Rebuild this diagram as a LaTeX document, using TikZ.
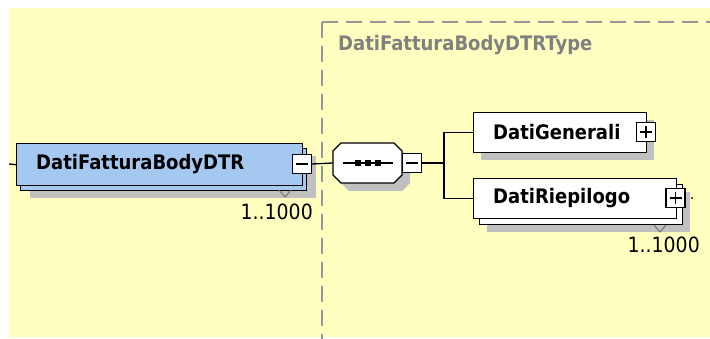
\documentclass[tikz,border=0pt]{standalone}
\usepackage{fontspec}
\setmainfont{DejaVu Sans}[FakeStretch=0.9]
\definecolor{bg}{RGB}{255,255,192}
\definecolor{elblue}{RGB}{164,200,240}
\definecolor{shad}{RGB}{192,192,192}
\definecolor{dashc}{RGB}{150,150,150}
\definecolor{typec}{RGB}{128,128,128}
\begin{document}
\begin{tikzpicture}[x=1pt,y=-1pt,
  box/.style={draw=black, line width=1.3pt, fill=white, inner sep=0, anchor=north west, minimum height=40pt},
  shadowbox/.style={fill=shad, inner sep=0, anchor=north west, minimum height=40pt},
  btn/.style={draw=black, line width=1.2pt, fill=white, minimum size=19pt, inner sep=0},
  conn/.style={line width=1.3pt, black},
  sign/.style={line width=1.2pt, black},
  lbl/.style={font=\bfseries\fontsize{20}{23}\selectfont, anchor=west, inner sep=0, text=black},
  card/.style={font=\fontsize{21}{24}\selectfont, anchor=base east, inner sep=0, text=black},
  tri/.style={draw=black!55, line width=1pt},
  dashln/.style={draw=dashc, line width=1.5pt, dash pattern=on 16pt off 8pt}
]
\useasboundingbox (0,0) rectangle (710,339);
\fill[bg] (9,8) rectangle (710,337);

% type boundary
\draw[dashln] (322,22) -- (710,22);
\draw[dashln] (322,22) -- (322,339);
\node[font=\bfseries\fontsize{20}{23}\selectfont, text=typec, anchor=west, inner sep=0] (typelbl) at (338,45) {DatiFatturaBodyDTRType};

% main element
\coordinate (lefte) at (9,164);
\node[shadowbox, minimum width=286pt, minimum height=42pt] (mainsh) at (30,156) {};
\node[box, fill=elblue, minimum width=286pt, minimum height=42pt] (mainbk) at (20,148) {};
\node[box, fill=elblue, minimum width=286pt, minimum height=42pt] (main) at (16,143) {};
\node[lbl] (maint) at (36,164) {DatiFatturaBodyDTR};
\draw[conn] (lefte) -- (main.west);
\node[btn] (mainbtn) at (302,164) {};
\draw[sign] ([xshift=-6pt]mainbtn.center) -- ([xshift=6pt]mainbtn.center);
\draw[tri] (279,190) -- (285,197) -- (291,190);
\node[card] (maincard) at (313,220) {1..1000};

% sequence compositor
\fill[shad] (349,151) -- (402,151) -- (410,159) -- (410,183) -- (402,191) -- (349,191) -- (341,183) -- (341,159) -- cycle;
\draw[line width=1.3pt, fill=white] (341,143) -- (394,143) -- (402,151) -- (402,175) -- (394,183) -- (341,183) -- (333,175) -- (333,151) -- cycle;
\node[inner sep=0, minimum width=69pt, minimum height=40pt] (seq) at (367.5,163) {};
\draw[line width=1.2pt] (343,163) -- (393,163);
\foreach \q in {358,368,378} \fill (\q,163) +(-2.6,-2.6) rectangle +(2.6,2.6);
\draw[conn] (mainbtn.east) -- (seq.west);
\node[btn] (seqbtn) at (412,163) {};
\draw[sign] ([xshift=-6pt]seqbtn.center) -- ([xshift=6pt]seqbtn.center);

% DatiGenerali
\node[shadowbox, minimum width=173pt] (gensh) at (481,120) {};
\node[box, minimum width=173pt] (gen) at (473,112) {};
\node[lbl] (gent) at (493,132) {DatiGenerali};
\node[btn] (genbtn) at (646,132) {};
\draw[sign] ([xshift=-6pt]genbtn.center) -- ([xshift=6pt]genbtn.center);
\draw[sign] ([yshift=-6pt]genbtn.center) -- ([yshift=6pt]genbtn.center);

% DatiRiepilogo
\node[shadowbox, minimum width=203pt] (riepsh) at (487,192) {};
\node[box, minimum width=203pt] (riepbk) at (479,184) {};
\node[box, minimum width=203pt] (riep) at (473,178) {};
\node[lbl] (riept) at (493,198) {DatiRiepilogo};
\node[btn] (riepbtn) at (675.5,198) {};
\draw[sign] ([xshift=-6pt]riepbtn.center) -- ([xshift=6pt]riepbtn.center);
\draw[sign] ([yshift=-6pt]riepbtn.center) -- ([yshift=6pt]riepbtn.center);
\fill[black!70] (691,197.3) rectangle (692.5,198.8);
\draw[tri] (654,225) -- (660,232) -- (666,225);
\node[card] (riepcard) at (700,253) {1..1000};

% branches
\coordinate (br) at (444,163);
\draw[conn] (seqbtn.east) -- (br);
\draw[conn] (br) |- (gen.west);
\draw[conn] (br) |- (riep.west);
\end{tikzpicture}
\end{document}
